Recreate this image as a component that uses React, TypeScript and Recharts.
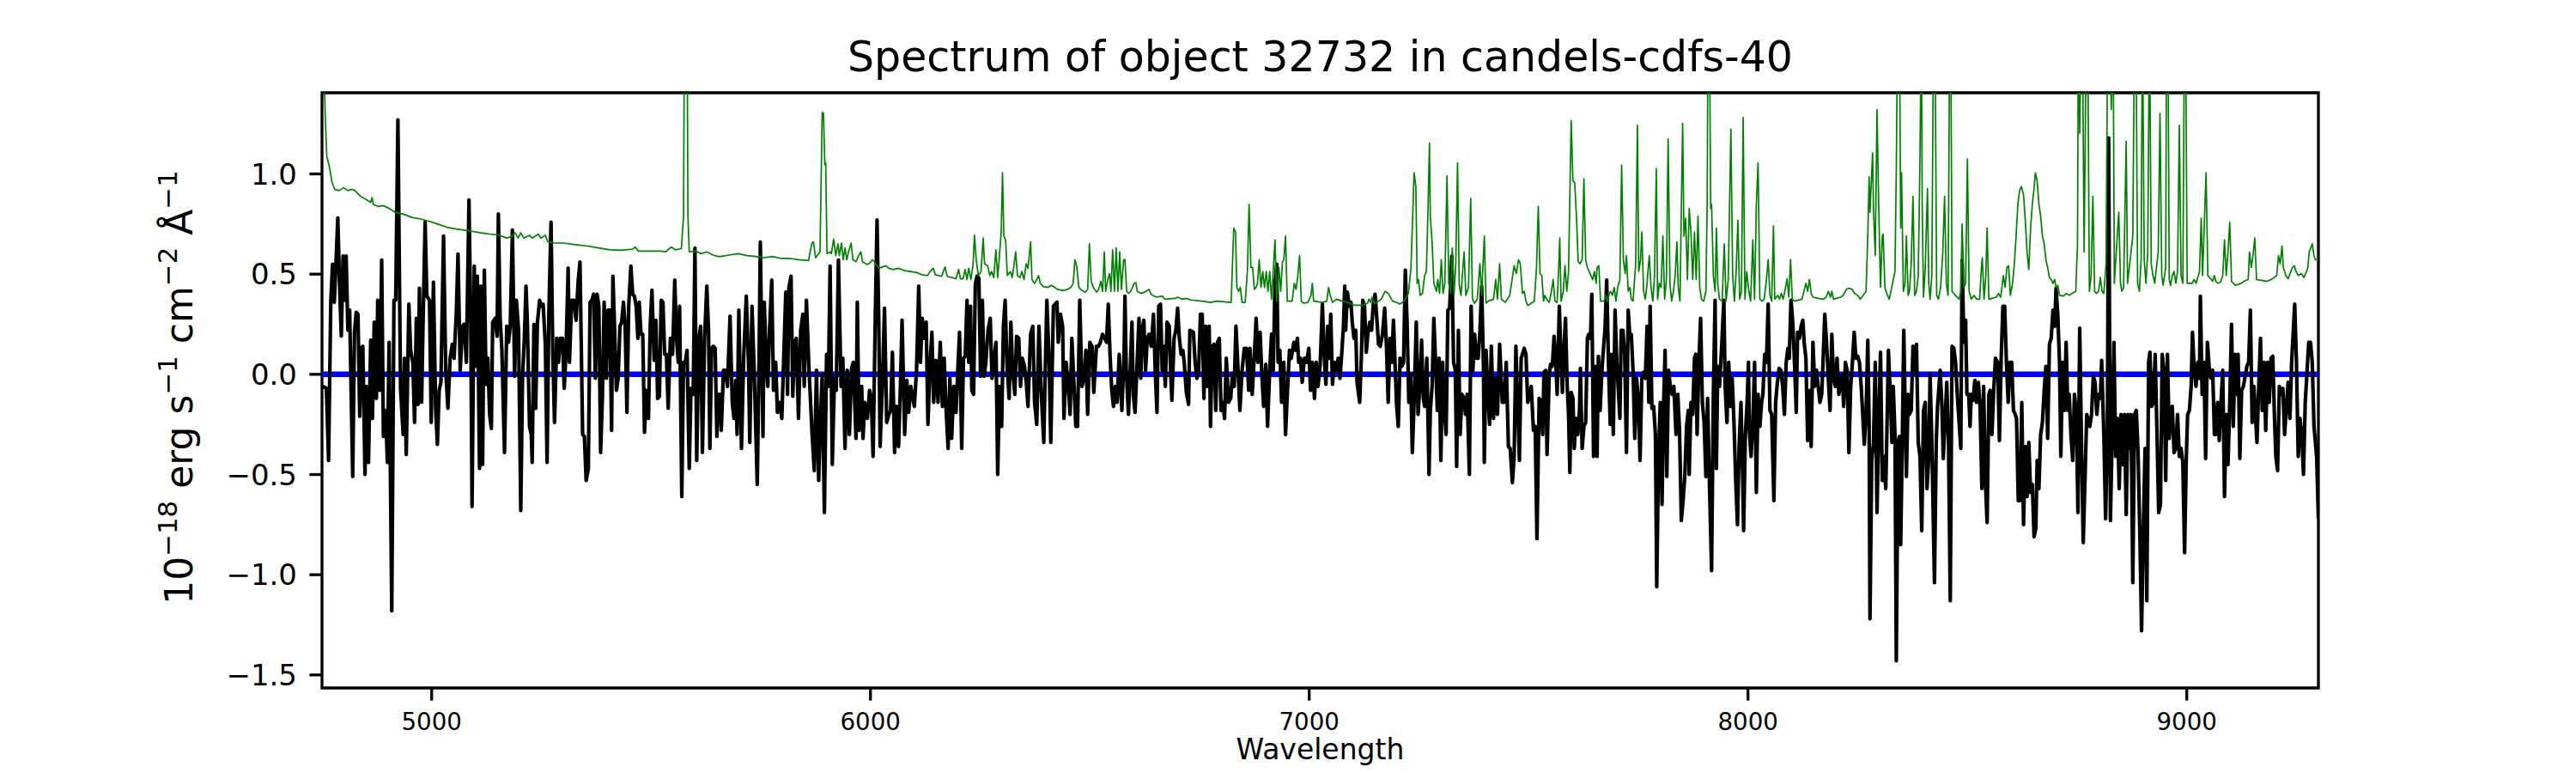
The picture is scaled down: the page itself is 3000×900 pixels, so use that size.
import React from 'react';
import { LineChart, Line, XAxis, YAxis, ReferenceArea } from 'recharts';

type P = [number, number];

// Observed spectrum (black), wavelength in Angstrom, flux in 1e-18 erg/s/cm2/A
const fluxA: P[] = [[4752,-0.06],[4760,-0.07],[4765,-0.43],[4770,0.36],[4774,0.55],[4778,0.36],[4781,0.51],[4786,0.78],[4790,0.45],[4794,0.19],[4798,0.59],[4802,0.37],[4805,0.59],[4809,0.22],[4813,0.32],[4820,-0.51],[4824,0.21],[4828,0.31],[4832,0.30],[4836,-0.21],[4839,0.13],[4843,0.14],[4848,-0.50],[4851,-0.06],[4856,-0.44],[4861,0.17],[4865,-0.22],[4869,0.26],[4874,-0.12],[4877,0.37],[4882,-0.08],[4886,0.57],[4890,-0.31],[4895,-0.18],[4899,-0.44],[4903,0.16],[4909,-1.18],[4914,0.37],[4918,0.37],[4923,1.27],[4929,-0.07],[4935,-0.30],[4938,0.08],[4942,-0.40],[4948,0.35],[4952,0.12],[4957,0.06],[4961,-0.24],[4965,0.28],[4969,-0.15],[4972,0.43],[4977,-0.14],[4980,0.22],[4985,0.76],[4989,0.39],[4995,0.37],[4999,-0.24],[5004,0.46],[5009,-0.17],[5013,-0.35],[5017,-0.08],[5021,-0.04],[5027,0.69],[5032,0.02],[5037,-0.17],[5042,0.08],[5047,0.15],[5051,0.08],[5056,0.30],[5060,0.60],[5065,0.02],[5070,0.24],[5074,0.25],[5079,0.06],[5085,0.87],[5089,0.26],[5092,-0.66],[5097,0.54],[5101,0.04],[5104,0.49],[5109,-0.47],[5112,0.44],[5116,-0.45],[5120,0.52],[5124,-0.05],[5128,0.08],[5132,-0.20],[5136,-0.27],[5139,0.26],[5145,0.28],[5149,0.19],[5152,0.80],[5156,0.28],[5160,0.12],[5166,-0.39],[5171,0.24],[5175,0.16],[5179,0.24],[5184,0.72],[5189,-0.01],[5193,0.37],[5198,0.22],[5203,-0.68],[5207,-0.02],[5211,0.17],[5215,0.44],[5218,0.26],[5223,-0.26],[5227,-0.30],[5229,-0.44],[5233,0.25],[5237,-0.17],[5241,0.26],[5246,0.37],[5250,0.34],[5254,0.35],[5259,0.15],[5263,-0.44],[5267,0.30],[5272,0.76],[5276,0.10],[5280,-0.24],[5285,0.18],[5289,0.06],[5293,0.18],[5298,0.18],[5302,-0.07],[5306,0.10],[5311,0.53],[5314,0.06],[5319,0.37],[5324,0.37],[5329,0.27],[5334,0.47],[5338,0.56],[5344,-0.30],[5348,-0.31],[5352,-0.53],[5357,-0.47],[5361,0.36],[5365,0.37],[5369,0.40],[5373,-0.02],[5377,0.40],[5381,0.34],[5385,-0.39],[5389,-0.12],[5393,0.36],[5398,-0.02],[5402,0.32],[5406,0.32],[5410,-0.28],[5413,0.49],[5417,0.22],[5421,-0.08],[5425,-0.02],[5429,0.24],[5433,0.26],[5437,0.36],[5441,0.24],[5445,-0.19],[5449,0.34],[5454,0.54],[5458,0.40],[5462,0.39],[5466,0.34],[5470,0.18],[5473,0.36],[5477,0.20],[5481,0.20],[5485,-0.29],[5489,-0.08],[5494,-0.22],[5498,0.24],[5502,0.42],[5507,0.07],[5511,0.27],[5515,-0.12],[5519,-0.11],[5523,0.37],[5527,0.36],[5531,0.10],[5535,0.10],[5539,-0.17],[5544,0.18],[5549,0.10],[5554,0.47],[5558,0.18],[5562,0.06],[5565,0.34],[5570,-0.61],[5574,0.06],[5578,0.06],[5582,0.12],[5587,-0.47],[5591,-0.07],[5596,-0.10],[5600,0.63],[5604,-0.43],[5609,0.18],[5613,0.24],[5617,-0.39],[5622,0.18],[5627,0.44],[5631,0.22],[5634,-0.37],[5638,0.13],[5642,0.14],[5646,0.13],[5650,-0.31],[5653,-0.10],[5657,-0.10]];

const fluxB: P[] = [[5660,-0.28],[5665,0.02],[5670,0.02],[5674,-0.06],[5680,0.29],[5685,-0.14],[5689,-0.22],[5693,-0.03],[5696,-0.30],[5700,0.32],[5706,-0.37],[5711,0.08],[5717,0.39],[5722,0.06],[5725,-0.34],[5730,0.34],[5735,0.02],[5742,-0.55],[5746,0.06],[5749,0.66],[5755,-0.31],[5758,0.36],[5763,0.04],[5766,-0.06],[5770,0.22],[5775,0.47],[5779,-0.08],[5784,0.06],[5788,-0.19],[5793,-0.14],[5798,-0.22],[5802,0.06],[5807,0.41],[5811,-0.10],[5814,0.43],[5819,0.49],[5823,-0.11],[5827,0.16],[5831,0.18],[5836,-0.22],[5841,0.22],[5846,0.30],[5849,-0.06],[5854,0.37],[5860,0.02],[5864,-0.16],[5867,-0.30],[5872,-0.48],[5877,0.02],[5882,-0.53],[5886,-0.24],[5890,0.00],[5895,-0.69],[5900,0.10],[5904,-0.06],[5908,0.54],[5913,-0.45],[5918,-0.02],[5922,-0.08],[5927,0.57],[5933,-0.06],[5937,0.08],[5942,-0.37],[5947,0.02],[5952,-0.30],[5957,0.03],[5961,0.06],[5967,-0.32],[5970,0.36],[5974,-0.28],[5980,-0.06],[5983,-0.32],[5987,-0.14],[5993,-0.22],[5998,-0.08],[6002,-0.12],[6006,-0.41],[6011,0.29],[6015,0.77],[6019,0.26],[6022,-0.36],[6027,-0.06],[6032,0.33],[6037,-0.24],[6042,-0.20],[6046,-0.18],[6050,0.11],[6055,-0.39],[6059,-0.16],[6064,-0.36],[6068,-0.08],[6072,0.27],[6078,-0.30],[6083,-0.03],[6087,-0.19],[6092,-0.06],[6100,-0.16],[6105,0.02],[6110,0.44],[6114,0.06],[6118,0.28],[6123,0.18],[6127,0.26],[6131,-0.25],[6136,0.06],[6140,0.21],[6144,-0.14],[6149,0.07],[6154,-0.14],[6159,0.16],[6164,-0.16],[6168,0.08],[6172,-0.16],[6177,-0.37],[6181,-0.02],[6185,-0.32],[6190,-0.06],[6195,-0.19],[6199,0.02],[6203,0.21],[6208,-0.37],[6212,0.08],[6216,0.09],[6220,0.37],[6224,0.06],[6228,0.34],[6231,-0.08],[6235,-0.10],[6239,0.45],[6243,0.49],[6247,0.48],[6251,-0.01],[6255,0.37],[6259,-0.01],[6263,0.06],[6268,0.22],[6273,0.28],[6277,-0.02],[6281,0.06],[6286,0.16],[6290,-0.50],[6294,-0.06],[6299,-0.26],[6303,0.24],[6307,0.37],[6311,0.06],[6316,-0.12],[6320,0.26],[6324,0.02],[6329,-0.10],[6333,0.19],[6338,0.18],[6342,-0.06],[6346,0.08],[6351,0.04],[6355,-0.04],[6359,-0.16],[6365,0.20],[6370,0.24],[6374,-0.14],[6379,-0.25],[6384,0.24],[6389,-0.08],[6395,-0.34],[6398,-0.02],[6402,0.37],[6407,0.08],[6411,-0.34],[6417,0.34],[6421,0.35],[6425,0.36],[6428,0.16],[6433,0.30],[6438,0.24],[6441,-0.22],[6446,0.06],[6451,-0.06],[6455,-0.20],[6459,0.18],[6464,-0.06],[6468,-0.26],[6472,-0.26],[6477,0.37],[6482,-0.06],[6487,-0.02],[6491,0.12],[6495,-0.20],[6500,0.16],[6505,0.14],[6509,-0.09],[6515,0.14],[6520,0.14],[6524,0.16],[6529,0.20],[6534,0.18],[6538,0.16],[6542,0.35],[6546,0.10],[6550,-0.08],[6554,-0.16],[6558,-0.06],[6562,-0.14],[6567,0.10],[6571,-0.10],[6573,-0.18],[6578,0.10]];

const fluxC: P[] = [[6580,0.39],[6583,0.02],[6588,-0.20],[6592,0.02],[6596,0.26],[6599,-0.10],[6603,-0.19],[6607,0.02],[6612,0.28],[6616,-0.02],[6619,0.22],[6623,0.27],[6627,0.02],[6631,0.18],[6635,0.20],[6640,0.14],[6645,0.30],[6649,0.02],[6653,-0.19],[6657,0.34],[6661,0.35],[6665,0.02],[6668,0.14],[6672,-0.06],[6676,0.26],[6681,0.24],[6684,0.02],[6687,-0.13],[6692,0.18],[6696,0.22],[6700,0.33],[6704,0.18],[6708,0.10],[6712,0.12],[6715,0.06],[6720,-0.09],[6725,-0.15],[6728,0.22],[6736,0.21],[6740,0.06],[6744,-0.02],[6748,0.02],[6752,0.30],[6756,0.30],[6760,-0.12],[6764,0.24],[6768,-0.06],[6772,0.24],[6775,-0.26],[6779,0.14],[6783,0.15],[6787,-0.18],[6791,0.16],[6795,0.18],[6799,-0.18],[6803,-0.14],[6807,-0.22],[6811,0.08],[6816,-0.14],[6821,-0.12],[6825,0.00],[6829,-0.06],[6833,0.24],[6837,0.06],[6842,-0.18],[6847,0.02],[6852,0.13],[6857,0.13],[6862,-0.08],[6865,0.13],[6870,-0.10],[6875,0.10],[6879,0.28],[6883,0.06],[6888,0.21],[6892,0.00],[6896,-0.16],[6901,0.05],[6905,-0.26],[6909,-0.03],[6914,0.20],[6918,0.02],[6922,0.45],[6926,0.55],[6929,0.06],[6933,0.12],[6937,-0.14],[6942,0.06],[6946,-0.30],[6950,-0.10],[6955,0.12],[6959,0.08],[6965,0.16],[6969,0.12],[6973,0.18],[6976,0.06],[6980,0.08],[6984,-0.04],[6989,0.08],[6994,0.06],[6999,0.13],[7003,-0.08],[7007,0.06],[7012,-0.12],[7016,0.06],[7020,-0.06],[7025,0.05],[7030,0.35],[7034,0.10],[7038,-0.05],[7042,0.24],[7046,0.08],[7049,0.30],[7053,-0.05],[7057,0.06],[7061,0.02],[7066,0.08],[7070,-0.02],[7074,0.10],[7078,0.24],[7081,0.44],[7083,0.22],[7087,0.41],[7091,0.34],[7095,0.36],[7098,0.26],[7102,0.18],[7106,0.22],[7109,-0.04],[7115,-0.14],[7119,0.10],[7122,0.37],[7126,0.34],[7130,0.11],[7134,0.21],[7138,0.26],[7142,0.22],[7146,0.35],[7150,0.40],[7154,0.28],[7158,0.15],[7162,0.14],[7167,0.20],[7172,0.33],[7176,0.14],[7180,-0.14],[7184,0.18],[7188,0.06],[7192,0.27],[7196,0.03],[7199,-0.15],[7203,-0.26],[7207,0.08],[7211,0.04],[7215,0.06],[7219,0.52],[7223,0.26],[7227,-0.14],[7231,0.00],[7235,-0.39],[7239,-0.14],[7244,0.26],[7248,-0.20],[7252,-0.06],[7256,0.17],[7260,-0.12],[7263,-0.16],[7268,0.08],[7273,-0.50],[7276,-0.18],[7280,-0.06],[7284,0.28],[7288,0.06],[7292,-0.18],[7296,0.08],[7300,-0.43],[7304,0.06],[7308,-0.18],[7312,-0.30],[7316,0.32],[7320,0.33],[7325,0.59],[7329,0.06],[7333,0.02],[7336,-0.46],[7340,0.22],[7344,-0.30],[7348,-0.10],[7353,-0.12],[7356,-0.20],[7360,-0.10],[7365,-0.50],[7369,0.34],[7373,0.02],[7377,0.20],[7381,0.08],[7385,0.08],[7389,0.21],[7393,0.44],[7397,0.05],[7399,-0.44],[7403,0.12],[7407,-0.08],[7411,-0.25],[7415,0.14],[7420,-0.22],[7424,-0.02],[7429,-0.20],[7434,0.15],[7440,-0.14],[7444,-0.14],[7449,0.06],[7454,-0.36],[7458,-0.37],[7463,-0.54],[7467,-0.41],[7471,0.14],[7475,-0.14],[7479,-0.43],[7483,0.08],[7486,0.10],[7490,0.13],[7494,0.10],[7498,-0.14]];

const fluxD: P[] = [[7500,-0.12],[7506,-0.06],[7511,-0.28],[7515,-0.26],[7519,-0.82],[7524,-0.12],[7528,-0.14],[7532,-0.30],[7535,0.01],[7539,0.02],[7542,-0.40],[7547,0.00],[7550,0.05],[7554,0.04],[7558,0.19],[7562,0.06],[7565,-0.10],[7570,0.34],[7573,0.14],[7577,-0.09],[7580,0.10],[7584,0.28],[7588,-0.06],[7591,-0.20],[7594,-0.49],[7597,-0.09],[7601,-0.12],[7604,-0.37],[7608,-0.22],[7612,-0.30],[7616,-0.18],[7618,0.03],[7622,-0.37],[7626,-0.26],[7630,-0.24],[7634,0.18],[7637,0.20],[7641,0.18],[7644,0.40],[7648,-0.41],[7652,0.04],[7656,-0.41],[7659,0.09],[7663,-0.18],[7667,0.02],[7671,0.14],[7674,0.22],[7678,0.47],[7682,0.06],[7686,-0.25],[7689,0.10],[7693,-0.30],[7697,0.32],[7701,0.06],[7708,-0.22],[7711,0.22],[7715,0.22],[7719,0.10],[7723,-0.39],[7727,0.32],[7731,0.18],[7734,0.20],[7738,0.02],[7742,-0.32],[7746,-0.02],[7750,-0.12],[7754,-0.43],[7758,-0.02],[7762,0.01],[7766,-0.02],[7770,0.24],[7774,-0.14],[7777,0.34],[7781,-0.17],[7785,-0.16],[7789,-0.30],[7792,-1.06],[7796,-0.41],[7800,-0.14],[7804,-0.65],[7808,-0.12],[7811,0.12],[7815,-0.51],[7819,0.02],[7823,-0.06],[7827,-0.10],[7831,-0.06],[7836,-0.30],[7840,-0.10],[7844,-0.28],[7848,-0.73],[7852,-0.63],[7856,-0.51],[7860,-0.26],[7864,-0.18],[7866,-0.50],[7870,-0.14],[7874,-0.20],[7878,0.08],[7881,0.10],[7884,-0.30],[7888,0.06],[7892,0.28],[7896,-0.14],[7900,-0.24],[7904,-0.51],[7908,-0.12],[7912,-0.53],[7917,-0.98],[7921,-0.10],[7925,0.37],[7928,-0.47],[7931,0.04],[7935,-0.06],[7940,0.14],[7945,0.37],[7948,-0.06],[7952,-0.24],[7956,0.06],[7960,-0.16],[7964,-0.02],[7968,-0.24],[7972,-0.53],[7976,-0.75],[7980,-0.34],[7984,-0.14],[7988,-0.53],[7990,-0.78],[7994,-0.30],[7998,-0.14],[8001,0.06],[8003,-0.28],[8007,-0.41],[8011,-0.24],[8015,0.06],[8019,-0.59],[8023,-0.10],[8027,-0.26],[8031,-0.14],[8034,-0.10],[8038,0.10],[8042,0.06],[8046,0.35],[8050,-0.18],[8054,-0.20],[8059,-0.63],[8063,-0.14],[8067,-0.04],[8071,0.03],[8075,0.02],[8079,-0.06],[8083,-0.20],[8087,0.06],[8091,0.13],[8094,0.08],[8098,0.37],[8102,0.26],[8106,0.06],[8110,-0.19],[8113,0.21],[8117,0.18],[8121,0.24],[8125,0.27],[8128,0.16],[8132,0.08],[8136,-0.33],[8140,-0.08],[8144,-0.36],[8148,0.16],[8152,-0.06],[8156,0.02],[8160,-0.06],[8164,-0.14],[8168,-0.10],[8171,0.06],[8175,0.30],[8179,0.16],[8183,-0.02],[8187,-0.18],[8191,0.20],[8195,-0.02],[8199,-0.06],[8203,0.08],[8207,-0.10],[8211,-0.04],[8215,0.00],[8218,-0.16],[8222,0.06],[8226,0.02],[8230,-0.39],[8234,-0.06],[8238,0.06],[8242,0.21],[8246,0.08],[8250,0.09],[8254,0.06],[8258,-0.06],[8262,-0.22],[8265,-0.35],[8269,-0.20],[8273,0.17],[8276,-0.24],[8278,-1.22],[8282,-0.43],[8286,-0.34],[8290,0.06],[8294,-0.69],[8298,-0.24],[8302,0.11],[8306,-0.53],[8310,-0.41],[8314,-0.57],[8318,-0.12],[8320,0.12],[8324,-0.08],[8328,-0.34],[8331,-0.06],[8335,-0.30],[8338,-1.43],[8342,-0.34],[8345,-0.31],[8348,-0.85],[8352,-0.28],[8355,0.22],[8358,-0.14],[8361,-0.51],[8365,-0.10],[8368,-0.20],[8372,-0.18],[8376,0.14],[8380,0.02],[8384,0.15],[8388,-0.34],[8392,-0.41],[8396,-0.78]];

const fluxE: P[] = [[8400,-0.18],[8404,-0.14],[8408,-0.57],[8412,-0.41],[8415,0.00],[8419,-0.34],[8425,-1.04],[8429,-0.34],[8432,-0.16],[8438,0.02],[8442,-0.16],[8445,-0.42],[8449,-0.24],[8453,-0.04],[8457,-0.34],[8461,-1.13],[8465,0.14],[8469,0.13],[8473,0.06],[8477,-0.10],[8485,-0.37],[8488,0.57],[8492,0.16],[8496,0.27],[8499,-0.10],[8503,-0.10],[8506,-0.26],[8509,-0.10],[8513,-0.13],[8517,-0.03],[8521,-0.14],[8525,-0.04],[8529,-0.16],[8533,-0.57],[8537,-0.06],[8541,-0.53],[8545,-0.74],[8549,-0.10],[8552,-0.08],[8556,-0.30],[8560,-0.08],[8564,0.08],[8569,0.06],[8573,-0.33],[8577,0.08],[8581,0.34],[8585,0.34],[8589,0.06],[8593,-0.14],[8597,0.06],[8601,0.06],[8605,-0.18],[8609,-0.20],[8612,-0.22],[8616,-0.63],[8620,-0.63],[8624,-0.14],[8628,-0.75],[8632,-0.36],[8636,-0.61],[8640,-0.34],[8644,-0.59],[8648,-0.55],[8652,-0.81],[8656,-0.77],[8659,-0.43],[8663,-0.57],[8667,-0.30],[8671,-0.24],[8675,-0.08],[8679,0.04],[8683,-0.32],[8687,0.15],[8691,0.18],[8695,0.32],[8699,0.24],[8702,0.43],[8706,0.30],[8710,0.06],[8713,-0.41],[8717,0.06],[8721,-0.18],[8725,0.16],[8729,-0.18],[8732,-0.10],[8736,-0.30],[8740,-0.43],[8744,-0.10],[8748,-0.18],[8752,-0.69],[8756,0.23],[8760,-0.34],[8764,-0.84],[8768,-0.53],[8772,-0.20],[8779,-0.26],[8783,-0.20],[8787,-0.01],[8791,-0.04],[8795,-0.20],[8799,-0.10],[8803,-0.12],[8806,0.07],[8811,-0.30],[8815,-0.72],[8819,-0.30],[8822,1.18],[8826,-0.73],[8830,-0.30],[8834,0.16],[8838,-0.41],[8842,-0.22],[8846,-0.57],[8850,-0.20],[8854,-0.45],[8858,-0.20],[8862,-0.70],[8866,-0.20],[8869,-0.37],[8873,-0.20],[8877,-1.04],[8881,-0.20],[8885,-0.18],[8889,-0.39],[8893,-0.79],[8897,-1.28],[8901,-0.77],[8905,-0.37],[8909,-1.13],[8913,0.06],[8916,0.11],[8920,-0.16],[8924,-0.14],[8928,0.10],[8932,-0.28],[8936,-0.69],[8940,-0.65],[8944,0.10],[8948,0.02],[8952,-0.53],[8956,0.10],[8960,-0.32],[8963,-0.22],[8967,-0.16],[8971,-0.39],[8975,-0.37],[8979,-0.20],[8983,-0.41],[8987,-0.37],[8991,-0.44],[8995,-0.89],[8999,-0.41],[9002,-0.20],[9006,-0.18],[9010,-0.06],[9013,0.21],[9017,0.02],[9021,-0.06],[9025,0.06],[9029,-0.02],[9031,0.39],[9035,-0.10],[9039,0.06],[9043,-0.42],[9047,0.16],[9051,0.04],[9055,-0.02],[9059,0.02],[9063,-0.30],[9066,-0.30],[9070,-0.14],[9074,-0.33],[9078,-0.14],[9082,0.02],[9086,-0.61],[9090,-0.20],[9094,-0.45],[9098,-0.14],[9102,0.25],[9106,-0.26],[9110,0.10],[9113,-0.10],[9117,0.10],[9121,-0.42],[9125,-0.08],[9129,-0.06],[9137,0.04],[9141,0.06],[9145,0.32],[9149,-0.24],[9153,-0.06],[9156,-0.18],[9160,-0.34],[9164,-0.06],[9168,0.18],[9172,-0.18],[9176,0.06],[9180,-0.28],[9184,0.06],[9188,-0.14],[9192,0.08],[9196,0.09],[9200,-0.22],[9203,-0.41],[9207,-0.48],[9211,-0.06],[9215,-0.10],[9219,-0.07],[9223,-0.30],[9227,-0.16],[9231,-0.04],[9235,-0.22],[9239,0.06],[9246,0.35],[9250,0.06],[9254,-0.41],[9258,-0.22],[9262,-0.30],[9266,-0.50],[9270,-0.14],[9278,0.16],[9282,0.16],[9286,0.06],[9290,-0.26],[9296,-0.41],[9300,-0.72]];

// Error / sky spectrum (green)
const errA: P[] = [[4751,1.9],[4756,1.40],[4758,1.25],[4761,1.085],[4766,1.045],[4773,0.957],[4779,0.923],[4789,0.917],[4799,0.931],[4809,0.917],[4818,0.923],[4825,0.917],[4838,0.888],[4854,0.868],[4861,0.858],[4864,0.882],[4867,0.848],[4877,0.838],[4890,0.842],[4903,0.828],[4916,0.809],[4936,0.799],[4955,0.783],[4975,0.775],[4995,0.763],[5014,0.750],[5034,0.734],[5053,0.726],[5073,0.720],[5092,0.714],[5112,0.706],[5132,0.700],[5151,0.696],[5171,0.680],[5184,0.690],[5190,0.706],[5197,0.680],[5203,0.706],[5210,0.680],[5223,0.694],[5229,0.680],[5243,0.700],[5249,0.680],[5259,0.694],[5265,0.661],[5282,0.655],[5301,0.655],[5327,0.647],[5353,0.641],[5380,0.631],[5406,0.621],[5432,0.619],[5458,0.625],[5464,0.635],[5471,0.615],[5497,0.615],[5523,0.615],[5533,0.611],[5546,0.635],[5556,0.621],[5569,0.627],[5574,0.789],[5576,1.8],[5582,1.8],[5584,0.789],[5587,0.611],[5601,0.615],[5614,0.602],[5627,0.611],[5640,0.596],[5653,0.588]];

const errB: P[] = [[5660,0.588],[5680,0.596],[5699,0.602],[5719,0.592],[5738,0.588],[5758,0.582],[5777,0.588],[5797,0.578],[5817,0.578],[5836,0.572],[5859,0.568],[5866,0.651],[5870,0.661],[5875,0.582],[5885,0.611],[5890,1.306],[5893,1.302],[5896,1.045],[5898,1.055],[5901,0.602],[5908,0.611],[5911,0.602],[5916,0.675],[5921,0.592],[5926,0.651],[5929,0.592],[5934,0.655],[5938,0.572],[5942,0.631],[5946,0.572],[5950,0.611],[5956,0.655],[5960,0.572],[5967,0.562],[5973,0.592],[5978,0.611],[5982,0.562],[5993,0.548],[5999,0.556],[6004,0.572],[6009,0.562],[6019,0.529],[6035,0.542],[6042,0.529],[6051,0.523],[6064,0.529],[6078,0.517],[6091,0.513],[6104,0.509],[6117,0.497],[6130,0.493],[6136,0.513],[6143,0.529],[6148,0.497],[6162,0.489],[6170,0.536],[6175,0.489],[6185,0.483],[6195,0.477],[6201,0.523],[6205,0.477],[6211,0.477],[6216,0.523],[6220,0.473],[6224,0.529],[6229,0.473],[6234,0.552],[6237,0.694],[6241,0.572],[6246,0.493],[6252,0.513],[6257,0.680],[6260,0.552],[6267,0.542],[6272,0.493],[6276,0.513],[6281,0.483],[6286,0.621],[6290,0.483],[6294,0.592],[6298,0.710],[6301,1.006],[6304,0.690],[6308,0.671],[6312,0.493],[6319,0.513],[6323,0.483],[6327,0.542],[6331,0.611],[6335,0.493],[6341,0.483],[6345,0.513],[6350,0.473],[6355,0.552],[6359,0.529],[6365,0.661],[6368,0.473],[6374,0.454],[6379,0.473],[6383,0.493],[6387,0.454],[6394,0.438],[6404,0.434],[6413,0.444],[6426,0.424],[6440,0.418],[6449,0.424],[6457,0.434],[6462,0.454],[6466,0.572],[6470,0.542],[6475,0.434],[6482,0.418],[6490,0.410],[6495,0.424],[6499,0.651],[6503,0.464],[6508,0.434],[6515,0.410],[6520,0.424],[6525,0.464],[6529,0.414],[6533,0.611],[6536,0.414],[6541,0.473],[6545,0.503],[6548,0.414],[6552,0.621],[6556,0.414],[6560,0.631],[6564,0.414],[6568,0.611],[6572,0.424],[6577,0.572]];

const errC: P[] = [[6580,0.572],[6584,0.414],[6588,0.404],[6593,0.414],[6597,0.434],[6601,0.454],[6605,0.458],[6608,0.414],[6616,0.404],[6625,0.410],[6631,0.418],[6635,0.424],[6640,0.398],[6652,0.385],[6665,0.391],[6671,0.375],[6694,0.379],[6700,0.385],[6710,0.375],[6720,0.379],[6730,0.371],[6756,0.365],[6775,0.359],[6789,0.365],[6822,0.359],[6828,0.730],[6832,0.710],[6835,0.434],[6839,0.414],[6843,0.434],[6847,0.359],[6854,0.359],[6859,0.513],[6863,0.848],[6867,0.533],[6871,0.533],[6875,0.424],[6879,0.434],[6882,0.454],[6886,0.572],[6890,0.434],[6894,0.513],[6898,0.434],[6902,0.513],[6906,0.414],[6910,0.513],[6914,0.375],[6918,0.513],[6922,0.671],[6926,0.365],[6931,0.533],[6935,0.414],[6939,0.562],[6942,0.572],[6946,0.690],[6950,0.365],[6961,0.365],[6966,0.454],[6970,0.424],[6974,0.493],[6978,0.592],[6982,0.365],[6987,0.355],[6997,0.359],[7004,0.394],[7007,0.454],[7010,0.365],[7030,0.359],[7040,0.365],[7044,0.434],[7048,0.394],[7053,0.359],[7062,0.375],[7076,0.365],[7089,0.359],[7102,0.345],[7121,0.345],[7133,0.355],[7136,0.375],[7140,0.359],[7143,0.385],[7149,0.355],[7154,0.359],[7164,0.375],[7173,0.414],[7180,0.404],[7190,0.365],[7199,0.359],[7206,0.351],[7216,0.365],[7226,0.404],[7232,0.533],[7239,1.006],[7243,0.937],[7246,0.454],[7249,0.473],[7253,0.394],[7258,0.404],[7263,0.493],[7267,0.513],[7271,0.848],[7274,1.154],[7276,0.789],[7280,0.661],[7284,0.454],[7290,0.414],[7293,0.473],[7297,0.404],[7301,0.572],[7305,0.404],[7309,0.454],[7314,0.990],[7318,0.454],[7322,0.404],[7326,0.631],[7330,0.394],[7334,0.552],[7338,1.055],[7342,0.444],[7346,0.394],[7349,0.493],[7353,0.611],[7357,0.394],[7363,0.434],[7368,0.878],[7372,0.375],[7377,0.355],[7383,0.375],[7389,0.552],[7393,0.394],[7399,0.690],[7403,0.355],[7408,0.365],[7420,0.375],[7425,0.473],[7429,0.375],[7434,0.552],[7438,0.375],[7447,0.359],[7457,0.394],[7467,0.542],[7472,0.503],[7477,0.572],[7481,0.552],[7486,0.404],[7490,0.414],[7494,0.365],[7498,0.345]];

const errD: P[] = [[7500,0.345],[7506,0.355],[7513,0.365],[7518,0.533],[7522,0.838],[7526,0.503],[7530,0.493],[7534,0.365],[7537,0.394],[7541,0.375],[7547,0.359],[7552,0.414],[7556,0.473],[7560,0.365],[7565,0.359],[7569,0.552],[7571,0.680],[7574,0.365],[7579,0.414],[7583,0.542],[7587,0.414],[7591,0.513],[7597,1.266],[7601,0.966],[7605,0.957],[7609,0.789],[7613,0.562],[7617,0.552],[7622,0.572],[7626,0.976],[7630,0.572],[7634,0.533],[7638,0.513],[7642,0.493],[7646,0.473],[7650,0.513],[7654,0.454],[7656,0.533],[7660,0.542],[7664,0.365],[7672,0.365],[7676,0.394],[7680,0.365],[7684,0.404],[7687,0.414],[7691,0.394],[7695,0.434],[7699,0.365],[7703,0.434],[7708,0.473],[7712,1.045],[7716,0.572],[7720,0.503],[7723,0.592],[7727,0.414],[7731,0.434],[7734,0.375],[7738,0.365],[7744,0.552],[7748,1.243],[7751,0.513],[7755,0.572],[7758,0.710],[7762,0.414],[7766,0.375],[7770,0.454],[7772,0.513],[7775,0.592],[7779,0.434],[7783,0.365],[7787,0.493],[7791,1.026],[7794,0.375],[7798,0.454],[7802,0.434],[7806,0.690],[7810,0.375],[7814,0.473],[7818,1.174],[7822,0.454],[7826,0.365],[7830,0.414],[7834,0.493],[7838,0.661],[7841,0.434],[7845,0.365],[7851,1.252],[7854,0.690],[7858,0.779],[7862,0.473],[7866,0.828],[7870,0.710],[7874,0.473],[7878,0.710],[7882,0.473],[7886,0.789],[7890,0.434],[7894,0.375],[7899,0.365],[7904,0.414],[7907,0.848],[7909,1.8],[7912,1.8],[7915,0.828],[7917,0.848],[7921,0.493],[7925,0.414],[7928,0.730],[7931,0.454],[7935,0.375],[7941,0.365],[7946,0.651],[7950,0.365],[7955,0.473],[7958,0.848],[7961,1.223],[7965,0.493],[7969,0.365],[7973,0.513],[7977,0.769],[7981,0.375],[7985,0.414],[7989,1.282],[7993,0.375],[7997,0.513],[8002,0.414],[8006,0.365],[8011,0.671],[8015,0.375],[8019,0.848],[8023,1.055],[8027,0.375],[8032,0.365],[8037,0.375],[8042,0.473],[8046,0.572],[8050,0.394],[8054,0.365],[8058,0.740],[8061,0.375],[8068,0.394],[8072,0.375],[8076,0.404],[8080,0.375],[8084,0.414],[8089,0.477],[8093,0.385],[8097,0.572],[8101,0.375],[8106,0.365],[8123,0.375],[8132,0.454],[8136,0.414],[8140,0.473],[8144,0.404],[8148,0.385],[8160,0.379],[8172,0.375],[8178,0.385],[8183,0.414],[8188,0.385],[8191,0.414],[8195,0.375],[8211,0.385],[8217,0.394],[8224,0.424],[8230,0.430],[8237,0.424],[8243,0.404],[8250,0.394],[8256,0.375],[8269,0.414],[8273,0.690],[8276,0.986],[8278,0.809],[8281,0.957],[8284,1.105],[8286,0.828],[8290,0.592],[8294,1.321],[8298,0.828],[8302,0.434],[8306,0.690],[8308,0.700],[8312,0.434],[8316,0.404],[8322,0.375],[8335,0.513],[8338,1.026],[8341,1.8],[8345,1.8],[8348,0.730],[8350,1.006],[8354,0.414],[8358,0.454],[8361,0.690],[8365,0.394],[8368,0.414],[8372,0.552],[8376,0.888],[8380,0.394],[8384,0.414],[8388,0.493],[8392,1.085],[8395,1.8],[8397,0.848]];

const errE: P[] = [[8400,0.385],[8404,0.533],[8406,0.690],[8409,0.927],[8412,0.454],[8415,0.375],[8419,0.493],[8423,1.8],[8426,1.8],[8430,0.394],[8434,0.375],[8439,0.434],[8444,0.611],[8448,0.888],[8452,0.454],[8456,0.394],[8460,1.8],[8462,1.8],[8465,0.414],[8473,0.394],[8481,0.375],[8485,0.414],[8488,0.750],[8492,0.434],[8496,0.454],[8500,1.075],[8504,0.414],[8509,0.375],[8515,0.394],[8521,0.375],[8528,0.375],[8532,0.533],[8534,0.582],[8538,0.375],[8542,0.493],[8545,0.730],[8549,0.375],[8566,0.385],[8571,0.404],[8576,0.385],[8582,0.493],[8586,0.434],[8590,0.533],[8594,0.542],[8598,0.394],[8603,0.454],[8607,0.552],[8611,0.690],[8615,0.848],[8619,0.917],[8623,0.937],[8628,0.897],[8632,0.769],[8636,0.611],[8640,0.523],[8644,0.730],[8648,0.848],[8652,0.927],[8655,1.006],[8659,0.966],[8663,0.848],[8667,0.789],[8671,0.690],[8675,0.651],[8679,0.572],[8683,0.533],[8687,0.483],[8691,0.473],[8695,0.454],[8699,0.473],[8702,0.434],[8706,0.444],[8710,0.394],[8719,0.391],[8726,0.404],[8732,0.394],[8739,0.404],[8747,0.414],[8751,0.651],[8753,1.8],[8756,1.203],[8760,1.8],[8762,1.8],[8766,0.611],[8770,1.5],[8774,1.8],[8778,0.414],[8782,0.493],[8786,0.888],[8790,0.414],[8794,0.404],[8799,0.414],[8803,0.483],[8807,0.414],[8811,0.404],[8816,0.552],[8820,1.8],[8824,1.8],[8828,1.321],[8832,1.8],[8835,0.454],[8845,0.809],[8849,0.454],[8852,0.414],[8856,0.434],[8862,1.164],[8865,0.454],[8873,0.611],[8877,0.690],[8881,1.8],[8884,1.8],[8888,0.454],[8892,0.414],[8896,0.572],[8899,1.8],[8903,0.572],[8907,0.454],[8911,0.611],[8915,1.8],[8919,0.552],[8923,0.493],[8927,0.454],[8931,0.533],[8935,0.611],[8939,1.302],[8943,0.493],[8946,0.444],[8952,0.533],[8954,1.8],[8957,1.8],[8960,0.473],[8963,0.444],[8967,0.493],[8971,0.513],[8975,0.454],[8979,0.513],[8983,1.243],[8987,0.493],[8991,0.454],[8995,1.8],[8997,1.8],[9001,0.454],[9012,0.454],[9017,0.473],[9021,0.454],[9025,0.483],[9029,0.513],[9033,0.779],[9036,0.493],[9044,1.006],[9048,0.493],[9059,0.464],[9063,0.493],[9066,0.464],[9072,0.454],[9078,0.464],[9082,0.493],[9086,0.671],[9090,0.493],[9094,0.611],[9098,0.759],[9102,0.464],[9111,0.444],[9124,0.454],[9130,0.464],[9140,0.473],[9143,0.611],[9147,0.533],[9151,0.592],[9155,0.680],[9159,0.473],[9170,0.469],[9183,0.464],[9192,0.473],[9199,0.483],[9205,0.493],[9209,0.592],[9213,0.552],[9217,0.641],[9220,0.533],[9226,0.493],[9231,0.477],[9237,0.513],[9241,0.533],[9245,0.542],[9249,0.513],[9254,0.493],[9261,0.503],[9267,0.483],[9273,0.513],[9276,0.533],[9279,0.611],[9283,0.631],[9286,0.651],[9290,0.592],[9293,0.572],[9300,0.572]];

// Zero level (blue)
const zeroLevel: P[] = [[4750, 0], [9300, 0]];

const xTicks = [5000, 6000, 7000, 8000, 9000];
const yTicks = [-1.5, -1.0, -0.5, 0.0, 0.5, 1.0];
const xDomain = [4750, 9300];
const yDomain = [-1.565, 1.405];

const titleText = 'Spectrum of object 32732 in candels-cdfs-40';
const xLabelText = 'Wavelength';

const toPts = (arr: P[]) => arr.map(([x, y]) => ({ x, y }));
const spectrum = toPts([...fluxA, ...fluxB, ...fluxC, ...fluxD, ...fluxE]);
const errSpec = toPts([...errA, ...errB, ...errC, ...errD, ...errE]);
const zeroPts = toPts(zeroLevel);

const fmtY = (v: number) => v.toFixed(1).replace('-', '\u2212');

const XLabel = () => (
  <text x={1537.5} y={884} textAnchor="middle" fontSize={33} fill="#000">
    {xLabelText}
  </text>
);

// Y label (with mathtext-like superscripts) plus the chart title
const YLabelAndTitle = () => {
  const cx = 224;
  const cy = 451;
  const sup = 30.8;
  const up = 18;
  return (
    <g>
      <text x={1537.5} y={83} textAnchor="middle" fontSize={49} fill="#000">
        {titleText}
      </text>
      <text x={cx} y={cy} transform={`rotate(-90 ${cx} ${cy})`} textAnchor="middle" fontSize={44} fill="#000">
        <tspan>10</tspan>
        <tspan fontSize={sup} dy={-up}>{'\u221218'}</tspan>
        <tspan dy={up}>{' erg s'}</tspan>
        <tspan fontSize={sup} dy={-up}>{'\u22121'}</tspan>
        <tspan dy={up}>{' cm'}</tspan>
        <tspan fontSize={sup} dy={-up}>{'\u22122'}</tspan>
        <tspan dy={up}>{' \u00C5'}</tspan>
        <tspan fontSize={sup} dy={-up}>{'\u22121'}</tspan>
      </text>
    </g>
  );
};

export default function App() {
  return (
    <div
      style={{
        position: 'absolute',
        left: 0,
        top: 0,
        width: 3000,
        height: 900,
        background: '#fff',
        fontFamily: "'DejaVu Sans', sans-serif",
      }}
    >
      <LineChart
        width={3000}
        height={900}
        margin={{ top: 108, right: 300, bottom: 59, left: 295 }}
      >
        <XAxis
          dataKey="x"
          type="number"
          domain={xDomain}
          ticks={xTicks}
          interval={0}
          allowDataOverflow
          height={40}
          axisLine={false}
          tickSize={14.6}
          tickMargin={15}
          tickLine={{ stroke: '#000', strokeWidth: 3.3 }}
          tick={{ fontSize: 27.7, fill: '#000' }}
          label={<XLabel />}
        />
        <YAxis
          type="number"
          domain={yDomain}
          ticks={yTicks}
          interval={0}
          allowDataOverflow
          width={80}
          axisLine={false}
          tickSize={14.6}
          tickMargin={14.4}
          tickLine={{ stroke: '#000', strokeWidth: 3.3 }}
          tick={{ fontSize: 34, fill: '#000' }}
          tickFormatter={fmtY}
          label={<YLabelAndTitle />}
        />
        <Line
          data={zeroPts}
          dataKey="y"
          type="linear"
          stroke="#0000ff"
          strokeWidth={6.5}
          dot={false}
          activeDot={false}
          isAnimationActive={false}
        />
        <Line
          data={spectrum}
          dataKey="y"
          type="linear"
          stroke="#000000"
          strokeWidth={4.2}
          strokeLinejoin="round"
          dot={false}
          activeDot={false}
          isAnimationActive={false}
        />
        <Line
          data={errSpec}
          dataKey="y"
          type="linear"
          stroke="#008000"
          strokeWidth={1.7}
          strokeLinejoin="round"
          dot={false}
          activeDot={false}
          isAnimationActive={false}
        />
        <ReferenceArea
          x1={xDomain[0]}
          x2={xDomain[1]}
          y1={yDomain[0]}
          y2={yDomain[1]}
          fill="none"
          fillOpacity={0}
          stroke="#000"
          strokeWidth={3.3}
          ifOverflow="visible"
        />
      </LineChart>
    </div>
  );
}
